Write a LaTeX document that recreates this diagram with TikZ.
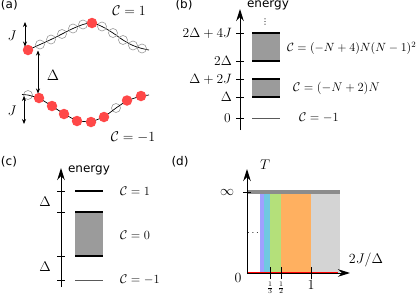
\RequirePackage{fix-cm}
\documentclass[tikz,border=0pt]{standalone}
\usepackage{fontspec}
\newfontfamily\labfont{DejaVu Sans}
\usetikzlibrary{arrows.meta}
\definecolor{dotred}{RGB}{255,72,72}
\definecolor{boxgray}{RGB}{155,155,155}
\definecolor{cpurple}{RGB}{160,160,255}
\definecolor{ccyan}{RGB}{112,200,225}
\definecolor{cgreen}{RGB}{180,224,122}
\definecolor{corange}{RGB}{255,176,96}
\definecolor{clgray}{RGB}{212,212,212}
\definecolor{topgray}{RGB}{140,140,140}
\begin{document}
\begin{tikzpicture}[x=1pt,y=-1pt,
  emptysite/.style={circle,draw=black!40,line width=0.6pt,minimum size=9pt,inner sep=0pt},
  occsite/.style={circle,fill=dotred,minimum size=10.5pt,inner sep=0pt},
  plab/.style={font=\labfont\fontsize{12}{13}\selectfont,inner sep=0pt},
  mA/.style={font=\fontsize{14}{16}\selectfont,inner sep=0pt},
  mB/.style={font=\fontsize{13.5}{15}\selectfont,inner sep=0pt},
  mC/.style={font=\fontsize{12.5}{14}\selectfont,inner sep=0pt},
  dblarrow/.style={{Stealth[length=5pt,width=4pt]}-{Stealth[length=5pt,width=4pt]},line width=0.7pt},
  axisarrow/.style={-{Stealth[length=12pt,width=7.5pt]},line width=0.9pt},
  tickline/.style={line width=0.8pt},
  levelline/.style={line width=1.1pt},
  zeroline/.style={line width=0.9pt,draw=black!65},
  bandbox/.style={fill=boxgray,draw=none}
]
\useasboundingbox (0,0) rectangle (416,295);

% ================= (a) =================
\node[plab,anchor=west] (la) at (0.8,5) {(a)};
\draw[line width=0.7pt] plot[smooth,tension=0.6] coordinates {(26,50.5) (28,50) (40,44.5) (51,39.5) (62,34) (73,28.5) (83,24.5) (92,23) (102,26.5) (113,33) (123,40) (133,45.5) (142,48.5) (149,50)};
\node[occsite] (u0) at (28,50) {};
\node[emptysite] (u1) at (40,44.5) {};
\node[emptysite] (u2) at (51,39.5) {};
\node[emptysite] (u3) at (62,34) {};
\node[emptysite] (u4) at (73,28.5) {};
\node[emptysite] (u5) at (83,24.5) {};
\node[occsite] (u6) at (92,23) {};
\node[emptysite] (u7) at (102,26.5) {};
\node[emptysite] (u8) at (113,33) {};
\node[emptysite] (u9) at (123,40) {};
\node[emptysite] (u10) at (133,45.5) {};
\node[emptysite] (u11) at (142,48.5) {};

\coordinate (lstart) at (22,94.5);
\coordinate (lend) at (149,95);
\node[emptysite] (d0) at (28,95) {};
\node[emptysite,draw=none] (d1) at (39,98) {};
\node[emptysite,draw=none] (d2) at (52,106) {};
\node[emptysite,draw=none] (d3) at (64,114) {};
\node[emptysite,draw=none] (d4) at (77,121) {};
\node[emptysite,draw=none] (d5) at (91,122) {};
\node[emptysite,draw=none] (d6) at (104,117) {};
\node[emptysite] (d7) at (116,108) {};
\node[emptysite,draw=none] (d8) at (127,100.5) {};
\node[emptysite,draw=none] (d9) at (141,96) {};
\draw[line width=0.7pt] (lstart) -- (d0.center) -- (d1.center) -- (d2.center) -- (d3.center) -- (d4.center) -- (d5.center) -- (d6.center) -- (d7.center) -- (d8.center) -- (d9.center) -- (lend);
\foreach \n in {d1,d2,d3,d4,d5,d6,d8,d9} {\fill[dotred] (\n) circle (5.25pt);}

\coordinate (ja1) at (25,22);
\coordinate (ja2) at (25,46.5);
\draw[dblarrow] (ja1) -- (ja2);
\node[mA] (jl1) at (12,36) {$J$};
\coordinate (dl1) at (38,50.5);
\coordinate (dl2) at (38,93.5);
\draw[dblarrow] (dl1) -- (dl2);
\node[font=\fontsize{15}{17}\selectfont,inner sep=0pt] (deltaa) at (53,75) {$\Delta$};
\coordinate (jb1) at (24,96);
\coordinate (jb2) at (24,124);
\draw[dblarrow] (jb1) -- (jb2);
\node[mA] (jl2) at (12,111) {$J$};
\node[mA] (ca1) at (129,11) {$\mathcal{C}=1$};
\node[mA] (ca2) at (133,137) {$\mathcal{C}=-1$};

% ================= (b) =================
\node[plab] (lb) at (184,5) {(b)};
\coordinate (b0) at (240,130);
\coordinate (b1) at (240,9);
\draw[axisarrow] (b0) -- (b1);
\node[plab] (eb) at (268,5.5) {energy};
\node[font=\labfont\fontsize{8}{8}\selectfont,inner sep=0pt] (vd) at (265,22) {⋮};
\fill[bandbox] (252,33) rectangle (280,61);
\fill[bandbox] (252,79) rectangle (280,97);
\foreach \yy in {33,61,79,97} {\draw[levelline] (252,\yy) -- (280,\yy);}
\draw[zeroline] (252,118) -- (280,118);
\foreach \yy in {33,61,79,97,118} {\draw[tickline] (236,\yy) -- (244,\yy);}
\node[mB,anchor=east] (tb1) at (232,33) {$2\Delta+4J$};
\node[mB,anchor=east] (tb2) at (232,61) {$2\Delta$};
\node[mB,anchor=east] (tb3) at (232,79) {$\Delta+2J$};
\node[mB,anchor=east] (tb4) at (232,97) {$\Delta$};
\node[mB,anchor=east] (tb5) at (231,118) {$0$};
\node[font=\fontsize{11.9}{13}\selectfont,inner sep=0pt,anchor=west] (cb1) at (287,48) {$\mathcal{C}=(-N+4)N(N-1)^2$};
\node[mC,anchor=west] (cb2) at (293,88) {$\mathcal{C}=(-N+2)N$};
\node[mC,anchor=west] (cb3) at (299,118) {$\mathcal{C}=-1$};

% ================= (c) =================
\node[plab,anchor=west] (lc) at (0.8,162) {(c)};
\coordinate (c0) at (61,287);
\coordinate (c1) at (61,168);
\draw[axisarrow] (c0) -- (c1);
\node[plab] (ec) at (89,170) {energy};
\fill[bandbox] (75,212) rectangle (103,256);
\foreach \yy in {191,212,256} {\draw[levelline] (75,\yy) -- (103,\yy);}
\draw[zeroline] (75,280) -- (103,280);
\foreach \yy in {191,212,256,280} {\draw[tickline] (57,\yy) -- (65,\yy);}
\node[mA] (dc1) at (45,202) {$\Delta$};
\node[mA] (dc2) at (45,267) {$\Delta$};
\node[mC,anchor=west] (cc1) at (120,191) {$\mathcal{C}=1$};
\node[mC,anchor=west] (cc2) at (120,235) {$\mathcal{C}=0$};
\node[mC,anchor=west] (cc3) at (120,280) {$\mathcal{C}=-1$};

% ================= (d) =================
\node[plab] (ld) at (180,162) {(d)};
\fill[cpurple] (260,192) rectangle (264,273);
\fill[ccyan] (264,192) rectangle (270,273);
\fill[cgreen] (270,192) rectangle (281,273);
\fill[corange] (281,192) rectangle (311,273);
\fill[clgray] (311,192) rectangle (340,273);
\coordinate (dtl) at (247,192);
\coordinate (dtr) at (340,192);
\draw[topgray,line width=3.5pt] (dtl) -- (dtr);
\coordinate (o) at (247,273);
\coordinate (ytop) at (247,169);
\coordinate (xend) at (350,273);
\coordinate (xred) at (338,273);
\draw[red,line width=2.6pt] (o) -- (xred);
\draw[axisarrow] (o) -- (ytop);
\draw[axisarrow] (o) -- (xend);
\draw[tickline] (243,192) -- (251,192);
\foreach \xx in {270,281,311} {\draw[tickline] (\xx,267) -- (\xx,279);}
\node[font=\fontsize{10}{11}\selectfont,inner sep=0pt] (f3) at (270,288) {$\frac13$};
\node[font=\fontsize{10}{11}\selectfont,inner sep=0pt] (f2) at (281,288) {$\frac12$};
\node[mA] (f1) at (311,285) {$1$};
\node[mA] (zd) at (238,278) {$0$};
\node[mA] (inf) at (227,192) {$\infty$};
\node[mA] (Tl) at (265,165) {$T$};
\node[mA] (xl) at (366,260) {$2J/\Delta$};
\node[font=\fontsize{10}{11}\selectfont,inner sep=0pt] (cd) at (253,233) {$\cdots$};
\end{tikzpicture}
\end{document}
